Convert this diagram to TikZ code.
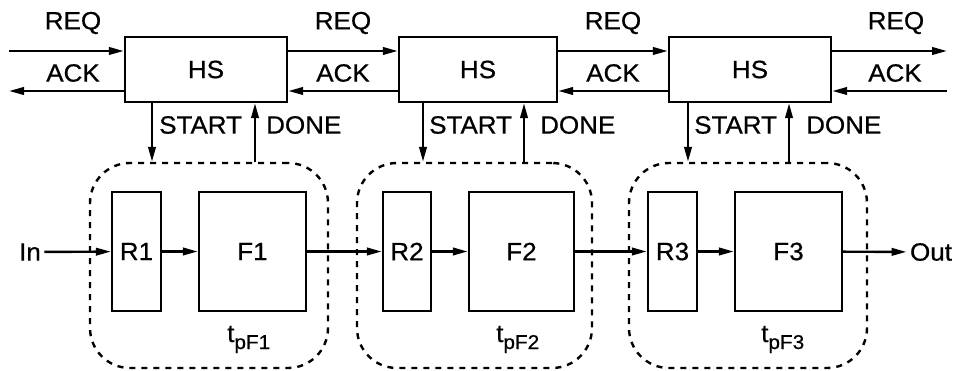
\documentclass[tikz,border=0pt]{standalone}
\usepackage{fontspec}
\setmainfont[FakeBold=0.6,FakeStretch=1.04]{Liberation Sans}
\usetikzlibrary{arrows.meta}
\begin{document}
\begin{tikzpicture}[x=1pt,y=-1pt,
  every node/.style={font=\fontsize{25}{30}\selectfont},
  hsbox/.style={draw,line width=2.4pt,minimum height=65pt,inner sep=0pt},
  regbox/.style={draw,line width=2.4pt,minimum height=119pt,inner sep=0pt},
  funcbox/.style={draw,line width=2.4pt,minimum height=119pt,inner sep=0pt},
  grp/.style={draw,line width=2.4pt,dash pattern=on 6pt off 6pt,rounded corners=40pt,minimum height=205pt,inner sep=0pt},
  arr/.style={line width=2.4pt,-{Triangle[length=15pt,width=7.5pt]}},
  lbl/.style={inner sep=0pt},
  sub/.style={anchor=base west,inner sep=0pt}
]
\path[use as bounding box] (0,0) rectangle (956,371);

% handshake boxes
\node[hsbox,minimum width=162pt] (hs1) at (206,69.5) {HS};
\node[hsbox,minimum width=158pt] (hs2) at (478,69.5) {HS};
\node[hsbox,minimum width=162pt] (hs3) at (750,69.5) {HS};

% dashed groups
\node[grp,minimum width=238pt] (g1) at (209,265.5) {};
\node[grp,minimum width=235pt] (g2) at (474.5,265.5) {};
\node[grp,minimum width=238pt] (g3) at (748,265.5) {};

% registers and functions
\node[regbox,minimum width=49pt] (r1) at (136.5,251.5) {R1};
\node[funcbox,minimum width=107pt] (f1) at (252.5,251.5) {F1};
\node[regbox,minimum width=48pt] (r2) at (407,251.5) {R2};
\node[funcbox,minimum width=105pt] (f2) at (521.5,251.5) {F2};
\node[regbox,minimum width=49pt] (r3) at (672.5,251.5) {R3};
\node[funcbox,minimum width=107pt] (f3) at (788.5,251.5) {F3};

\node (in) at (30,252) {In};
\node (out) at (931,252) {Out};

% REQ / ACK labels
\node[lbl] (req1) at (73,23) {REQ};
\node[lbl] (ack1) at (73,73) {ACK};
\node[lbl] (req2) at (343,23) {REQ};
\node[lbl] (ack2) at (343,73) {ACK};
\node[lbl] (req3) at (613,23) {REQ};
\node[lbl] (ack3) at (613,73) {ACK};
\node[lbl] (req4) at (896,23) {REQ};
\node[lbl] (ack4) at (895,73) {ACK};

% coordinates for lines
\coordinate (lft) at (9,0);
\coordinate (rgt) at (947,0);
\coordinate (reqy) at (0,51);
\coordinate (acky) at (0,91);
\coordinate (s1) at (152,0);
\coordinate (d1) at (255,0);
\coordinate (s2) at (423,0);
\coordinate (d2) at (524,0);
\coordinate (s3) at (688,0);
\coordinate (d3) at (789,0);

% REQ / ACK arrows
\draw[arr] (lft |- reqy) -- (hs1.west |- reqy);
\draw[arr] (hs1.west |- acky) -- (lft |- acky);
\draw[arr] (hs1.east |- reqy) -- (hs2.west |- reqy);
\draw[arr] (hs2.west |- acky) -- (hs1.east |- acky);
\draw[arr] (hs2.east |- reqy) -- (hs3.west |- reqy);
\draw[arr] (hs3.west |- acky) -- (hs2.east |- acky);
\draw[arr] (hs3.east |- reqy) -- (rgt |- reqy);
\draw[arr] (rgt |- acky) -- (hs3.east |- acky);

% START / DONE
\draw[arr] (hs1.south -| s1) -- (g1.north -| s1);
\draw[arr] (g1.north -| d1) -- (hs1.south -| d1);
\draw[arr] (hs2.south -| s2) -- (g2.north -| s2);
\draw[arr] (g2.north -| d2) -- (hs2.south -| d2);
\draw[arr] (hs3.south -| s3) -- (g3.north -| s3);
\draw[arr] (g3.north -| d3) -- (hs3.south -| d3);

\node[lbl,anchor=west] (st1) at (159,125) {START};
\node[lbl,anchor=west] (dn1) at (266,125) {DONE};
\node[lbl,anchor=west] (st2) at (429,125) {START};
\node[lbl,anchor=west] (dn2) at (540,125) {DONE};
\node[lbl,anchor=west] (st3) at (694,125) {START};
\node[lbl,anchor=west] (dn3) at (806,125) {DONE};

% data path
\draw[arr] (in) -- (r1);
\draw[arr] (r1) -- (f1);
\draw[arr] (f1) -- (r2);
\draw[arr] (r2) -- (f2);
\draw[arr] (f2) -- (r3);
\draw[arr] (r3) -- (f3);
\draw[arr] (f3) -- (out);

% delay labels
\node[sub] (tp1) at (227,342) {t\raisebox{-7pt}{\fontsize{20}{22}\selectfont pF1}};
\node[sub] (tp2) at (496,342) {t\raisebox{-7pt}{\fontsize{20}{22}\selectfont pF2}};
\node[sub] (tp3) at (761,342) {t\raisebox{-7pt}{\fontsize{20}{22}\selectfont pF3}};
\end{tikzpicture}
\end{document}
